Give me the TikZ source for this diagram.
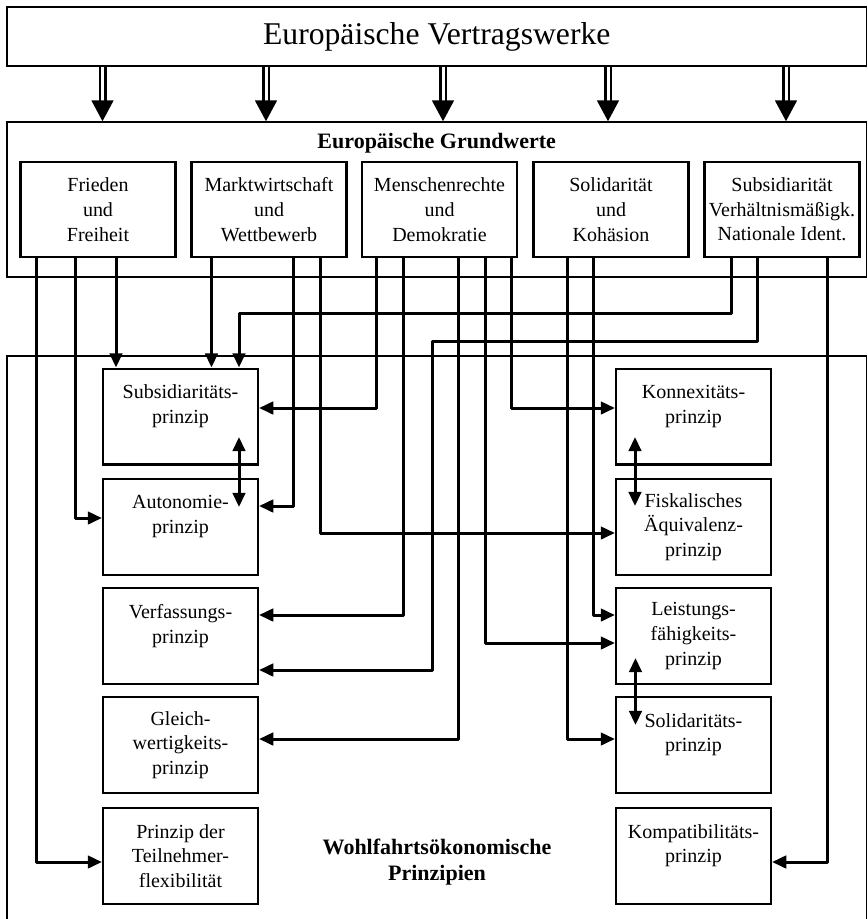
\documentclass[tikz,border=0pt]{standalone}
\usepackage{fontspec}
\setmainfont{Liberation Serif}
\usetikzlibrary{arrows.meta}

\begin{document}
\begin{tikzpicture}[x=0.6pt,y=-0.6pt,
  frame node/.style={draw,line width=0.9pt,minimum width=515.7pt,inner sep=0pt},
  value node/.style={draw,line width=1.3pt,minimum width=93pt,minimum height=57pt,inner sep=0pt,align=center,font=\fontsize{12}{14.8}\selectfont},
  rule node/.style={value node,minimum height=57.5pt},
  title node/.style={align=center,font=\bfseries\fontsize{13.2}{15.6}\selectfont},
  link/.style={line width=1.8pt,line join=round,-{Triangle[length=8.5pt,width=7.5pt]}},
  twoway/.style={line width=1.8pt,{Triangle[length=8.5pt,width=7.5pt]}-{Triangle[length=8.5pt,width=7.5pt]}},
  feed/.style={line width=1.5pt,double,double distance=1.8pt,-{Triangle[length=12.5pt,width=13pt]}}]

\useasboundingbox (0,0) rectangle (868,919);

% frames
\node[frame node,minimum height=35.4pt,font=\fontsize{19}{22}\selectfont] (vertrag) at (436.75,36.5) {Europäische Vertragswerke};
\node[frame node,minimum height=93pt] (gwframe) at (436.75,199.5) {};
\node[frame node,minimum height=350.4pt] (wpframe) at (436.75,648) {};
\node[title node] (gwtitle) at (436.75,143) {Europäische Grundwerte};
\node[title node] (wptitle) at (437,862) {Wohlfahrtsökonomische\\Prinzipien};

% Grundwerte
\node[value node] (frieden) at (98,209.5) {Frieden\\und\\Freiheit};
\node[value node] (markt) at (269,209.5) {Marktwirtschaft\\und\\Wettbewerb};
\node[value node] (mensch) at (439.5,209.5) {Menschenrechte\\und\\Demokratie};
\node[value node] (solid) at (611,209.5) {Solidarität\\und\\Kohäsion};
\node[value node] (subsid) at (782,209.5) {Subsidiarität\\Verhältnismäßigk.\\Nationale Ident.};

% Prinzipien
\node[rule node] (subs) at (180.5,416.5) {Subsidiaritäts-\\prinzip\\~};
\node[rule node] (auto) at (180.5,527) {Autonomie-\\prinzip\\~};
\node[rule node] (verf) at (180.5,636) {Verfassungs-\\prinzip\\~};
\node[rule node] (gleich) at (180.5,745) {Gleich-\\wertigkeits-\\prinzip};
\node[rule node] (teiln) at (180.5,856) {Prinzip der\\Teilnehmer-\\flexibilität};
\node[rule node] (konn) at (693.5,416.5) {Konnexitäts-\\prinzip\\~};
\node[rule node] (fisk) at (693.5,527) {Fiskalisches\\Äquivalenz-\\prinzip};
\node[rule node] (leist) at (693.5,636) {Leistungs-\\fähigkeits-\\prinzip};
\node[rule node] (solp) at (693.5,745) {Solidaritäts-\\prinzip\\~};
\node[rule node] (komp) at (693.5,856) {Kompatibilitäts-\\prinzip\\~};

\draw[feed] (102.5,0 |- vertrag.south) -- (102.5,0 |- gwframe.north);
\draw[feed] (266,0 |- vertrag.south) -- (266,0 |- gwframe.north);
\draw[feed] (443,0 |- vertrag.south) -- (443,0 |- gwframe.north);
\draw[feed] (608,0 |- vertrag.south) -- (608,0 |- gwframe.north);
\draw[feed] (786,0 |- vertrag.south) -- (786,0 |- gwframe.north);

% Frieden und Freiheit
\draw[link] (36,0 |- frieden.south) |- (teiln.west |- 0,862);
\draw[link] (75,0 |- frieden.south) |- (auto.west |- 0,518);
\draw[link] (116,0 |- frieden.south) -- (116,0 |- subs.north);
% Marktwirtschaft
\draw[link] (211.5,0 |- markt.south) -- (211.5,0 |- subs.north);
\draw[link] (293.5,0 |- markt.south) |- (auto.east |- 0,506);
\draw[link] (320,0 |- markt.south) |- (fisk.west |- 0,533);
% Menschenrechte
\draw[link] (376.5,0 |- mensch.south) |- (subs.east |- 0,408);
\draw[link] (403,0 |- mensch.south) |- (verf.east |- 0,615);
\draw[link] (458,0 |- mensch.south) |- (gleich.east |- 0,739);
\draw[link] (485,0 |- mensch.south) |- (leist.west |- 0,643);
\draw[link] (511.5,0 |- mensch.south) |- (konn.west |- 0,408);
% Solidaritaet
\draw[link] (567,0 |- solid.south) |- (solp.west |- 0,739);
\draw[link] (593.5,0 |- solid.south) |- (leist.west |- 0,615);
% Subsidiaritaet
\draw[link] (731,0 |- subsid.south) |- (239,313) -- (239,0 |- subs.north);
\draw[link] (757.5,0 |- subsid.south) |- (432,341) |- (verf.east |- 0,670);
\draw[link] (827,0 |- subsid.south) |- (komp.east |- 0,862);

% Wechselwirkungen
\coordinate (sa top) at (239,437);
\coordinate (sa bot) at (239,507);
\coordinate (kf top) at (635,437);
\coordinate (kf bot) at (635,506);
\coordinate (ls top) at (635.5,658);
\coordinate (ls bot) at (635.5,725);
\draw[twoway] (sa top) -- (sa bot);
\draw[twoway] (kf top) -- (kf bot);
\draw[twoway] (ls top) -- (ls bot);

\end{tikzpicture}
\end{document}
